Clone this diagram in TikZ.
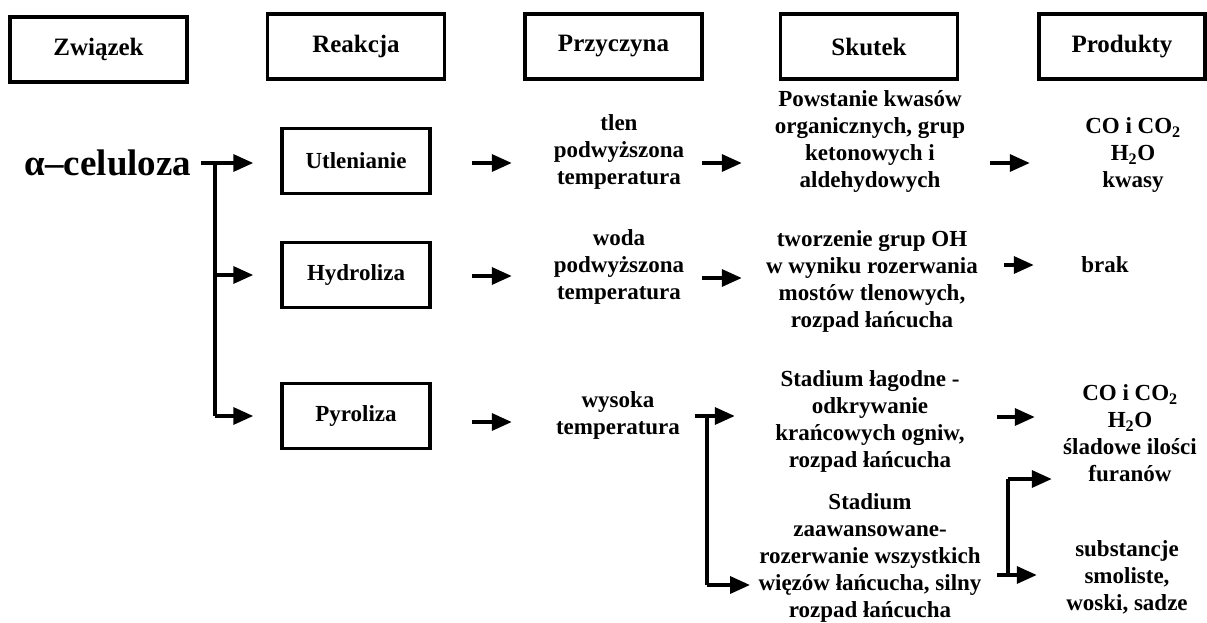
\documentclass[tikz,border=0pt]{standalone}
\usepackage{fontspec}
\setmainfont{Liberation Serif}
\usetikzlibrary{arrows.meta,calc}
\begin{document}
\begin{tikzpicture}[x=1pt,y=-1pt,
  ln/.style={line width=3.5pt},
  arr/.style={line width=3.5pt,-{Triangle[length=20pt,width=17pt]}},
  hbox/.style={draw,line width=3.5pt,minimum width=177pt,minimum height=65pt,font=\fontsize{25}{29}\selectfont\bfseries,inner sep=0pt},
  rbox/.style={draw,line width=3.5pt,minimum width=148pt,minimum height=65pt,font=\fontsize{23}{27}\selectfont\bfseries,inner sep=0pt},
  txt/.style={align=center,font=\fontsize{23}{27}\selectfont\bfseries,inner sep=0pt}]
\useasboundingbox (0,0) rectangle (1207,623);
% headers
\node[hbox] (h1) at (98.5,49.5) {Związek};
\node[hbox] (h2) at (356,46.5) {Reakcja};
\node[hbox] (h3) at (613.5,46.5) {Przyczyna};
\node[hbox] (h4) at (869,46.5) {Skutek};
\node[hbox,minimum width=166pt] (h5) at (1122,46.5) {Produkty};
% compound
\node[inner sep=2pt,font=\fontsize{37}{41}\selectfont\bfseries] (alpha) at (108,163) {α–celuloza};
% reactions
\node[rbox] (ut) at (356,161) {Utlenianie};
\node[rbox] (hy) at (356,275) {Hydroliza};
\node[rbox] (py) at (356,416) {Pyroliza};
% causes
\node[txt] (c1) at (619,152) {tlen\\podwyższona\\temperatura};
\node[txt] (c2) at (619,267) {woda\\podwyższona\\temperatura};
\node[txt] (c3) at (618,415) {wysoka\\temperatura};
% effects
\node[txt] (e1) at (870,141) {Powstanie kwasów\\organicznych, grup\\ketonowych i\\aldehydowych};
\node[txt] (e2) at (872,281) {tworzenie grup OH\\w wyniku rozerwania\\mostów tlenowych,\\rozpad łańcucha};
\node[txt] (e3) at (870,421) {Stadium łagodne -\\odkrywanie\\krańcowych ogniw,\\rozpad łańcucha};
\node[txt] (e4) at (870,558) {Stadium\\zaawansowane-\\rozerwanie wszystkich\\więzów łańcucha, silny\\rozpad łańcucha};
% products
\node[txt] (p1) at (1133,155) {CO i CO\textsubscript{2}\\H\textsubscript{2}O\\kwasy};
\node[txt] (p2) at (1105,265) {brak};
\node[txt] (p3) at (1130,433) {CO i CO\textsubscript{2}\\H\textsubscript{2}O\\śladowe ilości\\furanów};
\node[txt] (p4) at (1127,577) {substancje\\smoliste,\\woski, sadze};
% helper coordinates
\coordinate (tr) at (215,0);
\coordinate (f1) at (707,0);
\coordinate (f2) at (1008,0);
% compound -> reactions
\draw[arr] ([xshift=8pt]alpha.east) -- ([xshift=-27pt]alpha.east -| ut.west);
\draw[ln] (tr |- alpha.east) -- (tr |- py.west);
\draw[arr] (tr |- hy.west) -- ([xshift=-27pt]hy.west);
\draw[arr] (tr |- py.west) -- ([xshift=-27pt]py.west);
% reactions -> causes
\draw[arr] ([xshift=40pt,yshift=-2pt]ut.east) -- ([xshift=80pt,yshift=-2pt]ut.east);
\draw[arr] ([xshift=40pt,yshift=-1pt]hy.east) -- ([xshift=80pt,yshift=-1pt]hy.east);
\draw[arr] ([xshift=40pt,yshift=-6pt]py.east) -- ([xshift=80pt,yshift=-6pt]py.east);
% causes -> effects
\draw[arr] ([xshift=700pt-430pt]ut.east |- alpha.east) -- ([xshift=740pt-430pt]ut.east |- alpha.east);
\draw[arr] ([xshift=270pt,yshift=-3pt]hy.east) -- ([xshift=310pt,yshift=-3pt]hy.east);
\draw[ln] ([xshift=263pt]py.east) -- (f1 |- py.east);
\draw[arr] (f1 |- py.east) -- ([xshift=303pt]py.east);
\draw[ln] (f1 |- py.east) -- ([yshift=-169pt]f1 |- py.east);
\draw[arr] ([yshift=-169pt]f1 |- py.east) -- ([xshift=43pt,yshift=-169pt]f1 |- py.east);
% effects -> products
\draw[arr] ([xshift=988pt-430pt]ut.east |- alpha.east) -- ([xshift=1028pt-430pt]ut.east |- alpha.east);
\draw[arr] ([xshift=572pt,yshift=10pt]hy.east) -- ([xshift=602pt,yshift=10pt]hy.east);
\draw[arr] ([xshift=565pt,yshift=-1pt]py.east) -- ([xshift=603pt,yshift=-1pt]py.east);
\draw[ln] ([xshift=565pt,yshift=-159pt]py.east) -- ([yshift=-159pt]f2 |- py.east);
\draw[arr] ([yshift=-159pt]f2 |- py.east) -- ([xshift=605pt,yshift=-159pt]py.east);
\draw[ln] ([yshift=-159pt]f2 |- py.east) -- ([yshift=-63pt]f2 |- py.east);
\draw[arr] ([yshift=-63pt]f2 |- py.east) -- ([xshift=620pt,yshift=-63pt]py.east);
\end{tikzpicture}
\end{document}
